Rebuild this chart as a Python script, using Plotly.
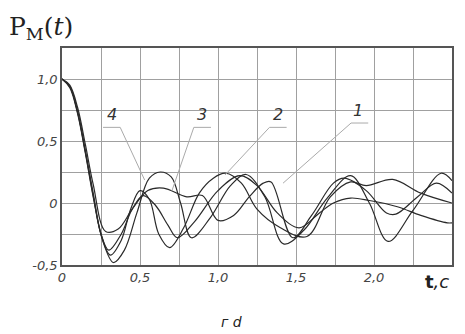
import plotly.graph_objects as go

# curve data (t in s, P_M)
t_a = [0, 0.05, 0.1, 0.15, 0.2, 0.26, 0.33, 0.40, 0.48, 0.56, 0.63, 0.70, 0.76, 0.83, 0.95, 1.08, 1.18, 1.30, 1.42, 1.55, 1.70, 1.85, 1.97, 2.09, 2.25, 2.43, 2.5]
p_a = [1.0, 0.93, 0.72, 0.40, 0.05, -0.30, -0.48, -0.38, -0.08, 0.20, 0.25, 0.21, 0.00, -0.28, -0.12, 0.14, 0.23, 0.05, -0.33, -0.22, 0.04, 0.22, 0.00, -0.31, -0.06, 0.24, 0.18]

t_b = [0, 0.05, 0.1, 0.15, 0.2, 0.25, 0.31, 0.38, 0.44, 0.50, 0.56, 0.62, 0.69, 0.78, 0.88, 0.97, 1.05, 1.15, 1.25, 1.40, 1.57, 1.72, 1.85, 1.95, 2.12, 2.30, 2.5]
p_b = [1.0, 0.94, 0.74, 0.42, 0.08, -0.25, -0.42, -0.30, -0.05, 0.10, 0.03, -0.25, -0.36, -0.20, 0.08, 0.20, 0.24, 0.16, -0.05, -0.20, -0.27, 0.05, 0.17, 0.14, 0.19, 0.08, 0.00]

t_c = [0, 0.05, 0.1, 0.15, 0.2, 0.28, 0.36, 0.45, 0.55, 0.65, 0.80, 0.90, 1.00, 1.10, 1.20, 1.29, 1.34, 1.48, 1.60, 1.74, 1.81, 1.95, 2.08, 2.14, 2.28, 2.40, 2.5]
p_c = [1.0, 0.95, 0.77, 0.47, 0.15, -0.23, -0.21, -0.05, 0.10, 0.12, 0.05, 0.06, -0.14, -0.10, 0.05, 0.16, 0.17, -0.28, -0.10, 0.16, 0.20, 0.10, -0.08, -0.09, 0.05, 0.16, 0.08]

t_d = [0, 0.05, 0.1, 0.15, 0.2, 0.25, 0.30, 0.38, 0.45, 0.52, 0.60, 0.68, 0.74, 0.85, 1.00, 1.14, 1.25, 1.38, 1.52, 1.65, 1.74, 1.85, 1.97, 2.15, 2.30, 2.47, 2.5]
p_d = [1.0, 0.94, 0.73, 0.41, 0.06, -0.25, -0.38, -0.25, -0.05, 0.06, -0.02, -0.18, -0.28, -0.15, 0.10, 0.22, 0.14, -0.08, -0.20, -0.08, 0.00, 0.04, 0.02, -0.03, -0.10, -0.16, -0.16]

x_tickvals = [0, 0.25, 0.5, 0.75, 1.0, 1.25, 1.5, 1.75, 2.0, 2.25, 2.5]
x_ticktext = ["0", "", "0,5", "", "1,0", "", "1,5", "", "2,0", "", ""]
y_tickvals = [-0.5, -0.25, 0, 0.25, 0.5, 0.75, 1.0, 1.25]
y_ticktext = ["-0,5", "", "0", "", "0,5", "", "1,0", ""]

# curve labels: text, label t, underline P, underline centre t, leader end t, leader end P
curve_labels = ["4", "3", "2", "1"]
label_t = [0.32, 0.90, 1.385, 1.90]
label_line_p = [0.61, 0.61, 0.61, 0.645]
label_line_t = [0.318, 0.90, 1.385, 1.908]
leader_end_t = [0.53, 0.705, 1.045, 1.417]
leader_end_p = [0.185, 0.10, 0.226, 0.16]

fig = go.Figure()
for tt, pp in [(t_a, p_a), (t_b, p_b), (t_c, p_c), (t_d, p_d)]:
    fig.add_trace(go.Scatter(x=tt, y=pp, mode="lines",
                             line=dict(color="#2a2a2a", width=1.2, shape="spline", smoothing=1.0),
                             showlegend=False, hoverinfo="skip"))

tickfont = dict(family="DejaVu Sans", size=13, color="#444", style="italic")
fig.update_layout(
    width=457, height=326,
    margin=dict(l=54, r=13, t=40, b=69),
    paper_bgcolor="white", plot_bgcolor="white",
    xaxis=dict(range=[0, 2.5], tickvals=x_tickvals, ticktext=x_ticktext,
               showgrid=True, gridcolor="#a0a0a0", gridwidth=1,
               showline=True, linecolor="#555", linewidth=1.5, mirror=True,
               ticks="", zeroline=False, tickfont=tickfont, automargin=False),
    yaxis=dict(range=[-0.5, 1.25], tickvals=y_tickvals, ticktext=y_ticktext,
               showgrid=True, gridcolor="#a0a0a0", gridwidth=1,
               showline=True, linecolor="#555", linewidth=1.5, mirror=True,
               ticks="", zeroline=False, tickfont=tickfont, automargin=False),
)

half = 0.055
for i, txt in enumerate(curve_labels):
    fig.add_annotation(x=label_t[i], y=label_line_p[i], yanchor="bottom", yshift=1,
                       text=txt, showarrow=False,
                       font=dict(family="DejaVu Sans", size=16, color="#333", style="italic"))
    fig.add_shape(type="line", x0=label_line_t[i] - half, x1=label_line_t[i] + half,
                  y0=label_line_p[i], y1=label_line_p[i], line=dict(color="#aaa", width=1))
    sx = label_line_t[i] + half if txt == "4" else label_line_t[i] - half
    fig.add_shape(type="line", x0=sx, y0=label_line_p[i], x1=leader_end_t[i], y1=leader_end_p[i],
                  line=dict(color="#aaa", width=1))

fig.add_annotation(xref="paper", yref="paper", x=-0.14, y=1.175, xanchor="left", yanchor="top",
                   text="P<sub>M</sub>(<i>t</i>)", showarrow=False,
                   font=dict(family="DejaVu Serif", size=25, color="#222"))
fig.add_annotation(xref="paper", yref="paper", x=0.925, y=-0.02, xanchor="left", yanchor="top",
                   text="<b>t</b><i>,c</i>", showarrow=False,
                   font=dict(family="DejaVu Sans", size=18, color="#222"))
fig.add_annotation(xref="paper", yref="paper", x=0.435, y=-0.215, xanchor="center", yanchor="top",
                   text="<i>г d</i>", showarrow=False,
                   font=dict(family="DejaVu Sans", size=14, color="#222"))

fig.write_html("out.html")
